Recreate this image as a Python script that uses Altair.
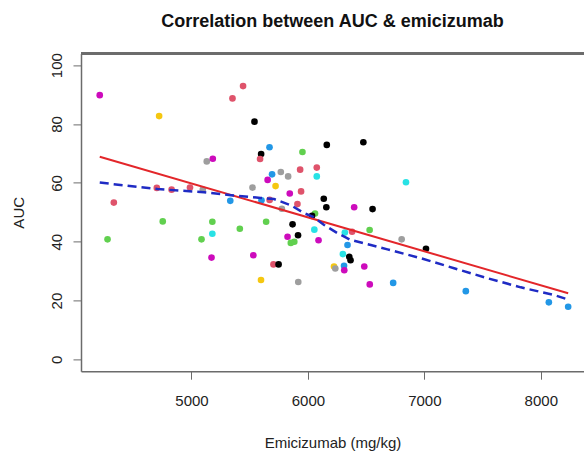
import altair as alt
import pandas as pd

# ---- data ----
emi = [4212, 4722, 5352, 5443, 5541, 5598, 5589, 5670, 5953, 6162,
       6476, 5131, 5183, 5692, 5767, 5830, 5933, 6076, 6076, 5654,
       5722, 5524, 4702, 4829, 4987, 5097, 5844, 5941, 5333, 5601,
       5671, 5910, 6136, 6158, 5776, 4333, 6061, 6035, 6397, 6555,
       6842, 4753, 5179, 5415, 5641, 4279, 5086, 5179, 5868, 5915,
       5825, 5853, 5883, 6055, 6091, 5172, 5531, 5704, 5748, 5597,
       5917, 6530, 6379, 6317, 6805, 7014, 6340, 6300, 6355, 6366,
       6484, 6224, 6235, 6310, 6312, 6531, 6732, 7356, 8069, 8235]
auc = [89.8, 82.7, 88.7, 92.9, 80.8, 69.8, 68.1, 72.1, 70.5, 72.9,
       73.8, 67.3, 68.2, 62.9, 63.7, 62.2, 64.5, 65.2, 62.2, 61.0,
       58.9, 58.4, 58.3, 57.7, 58.4, 57.7, 56.4, 57.1, 53.9, 54.1,
       54.2, 52.8, 54.6, 51.7, 51.2, 53.3, 49.6, 48.8, 51.7, 51.1,
       60.2, 46.9, 46.8, 44.4, 46.8, 40.8, 40.8, 42.7, 45.9, 42.2,
       41.7, 39.6, 40.0, 44.1, 40.5, 34.6, 35.4, 32.3, 32.3, 27.0,
       26.3, 44.0, 43.4, 43.1, 40.8, 37.6, 38.9, 35.8, 34.9, 33.7,
       31.6, 31.6, 30.9, 31.8, 30.3, 25.5, 26.0, 23.2, 19.4, 17.9]
grp = ["M", "Ye", "C", "C", "K", "K", "C", "B", "G", "K",
       "K", "Gr", "M", "B", "Gr", "Gr", "C", "C", "Cy", "M",
       "Ye", "Gr", "C", "C", "C", "Gr", "M", "C", "B", "B",
       "C", "C", "K", "K", "Gr", "C", "G", "K", "M", "K",
       "Cy", "G", "G", "G", "G", "G", "G", "Cy", "K", "K",
       "M", "G", "G", "Cy", "M", "M", "M", "C", "K", "Ye",
       "Gr", "G", "C", "Cy", "Gr", "K", "B", "Cy", "K", "K",
       "M", "Ye", "Gr", "B", "M", "M", "B", "B", "B", "B"]

fit_x = [4212, 8235]
fit_y = [68.9, 22.5]

low_x = [4212, 4708, 5108, 5338, 5595, 5709, 5853, 5967, 6050, 6139,
         6254, 6368, 6540, 6683, 6969, 7255, 7542, 7828, 8114, 8229]
low_y = [60.1, 57.9, 56.8, 55.8, 54.9, 54.5, 52.4, 49.7, 48.4, 45.7,
         42.9, 40.6, 38.9, 37.4, 34.4, 31.0, 27.6, 24.5, 21.9, 20.4]

x_ticks = [5000, 6000, 7000, 8000]
y_ticks = [0, 20, 40, 60, 80, 100]

pal_keys = ["K", "C", "G", "B", "Cy", "M", "Ye", "Gr"]
pal_cols = ["#000000", "#DF536B", "#61D04F", "#2297E6", "#28E2E5",
            "#CD0BBC", "#F5C710", "#9E9E9E"]

pts = pd.DataFrame({"x": emi, "y": auc, "g": grp})
fit = pd.DataFrame({"x": fit_x, "y": fit_y})
low = pd.DataFrame({"x": low_x, "y": low_y})

W, H = 503, 317.8
FONT = "Liberation Sans"
BOX = "#6b6b6b"

xscale = alt.Scale(domain=[4051, 8371], nice=False, zero=False)
yscale = alt.Scale(domain=[-4, 104], nice=False, zero=False)

xaxis = alt.Axis(values=x_ticks, format="d", title="Emicizumab (mg/kg)", grid=False,
                 tickSize=8, tickColor=BOX, domainColor=BOX, domainWidth=1.5,
                 labelFont=FONT, labelFontSize=15, labelColor="#222222",
                 labelBaseline="middle", labelPadding=21, labelFlush=False,
                 titleFont=FONT, titleFontSize=15, titleFontWeight="normal",
                 titleColor="#222222", titleBaseline="middle", titleY=71.4)
yaxis = alt.Axis(values=y_ticks, format="d", title="AUC", grid=False,
                 tickSize=8, tickColor=BOX, domainColor=BOX, domainWidth=1.5,
                 labelFont=FONT, labelFontSize=15, labelColor="#222222",
                 labelAngle=270, labelAlign="center", labelBaseline="middle",
                 labelPadding=17, labelFlush=False,
                 titleFont=FONT, titleFontSize=15, titleFontWeight="normal",
                 titleColor="#222222", titleBaseline="middle", titleX=-63,
                 titleAngle=270)

X = alt.X("x:Q", scale=xscale, axis=xaxis)
Y = alt.Y("y:Q", scale=yscale, axis=yaxis)

points = alt.Chart(pts).mark_circle(size=44, opacity=1).encode(
    x=X, y=Y,
    color=alt.Color("g:N", scale=alt.Scale(domain=pal_keys, range=pal_cols),
                    legend=None),
)

fit_line = alt.Chart(fit).mark_line(color="#E3262A", strokeWidth=2).encode(
    x=X, y=Y)

low_line = alt.Chart(low).mark_line(color="#1F2BC4", strokeWidth=2.5,
                                    strokeDash=[9, 5]).encode(x=X, y=Y)

top_border = alt.Chart(pts).mark_rule(color=BOX, strokeWidth=1.5).encode(
    x=alt.value(0), x2=alt.value(W), y=alt.value(0))

chart = alt.layer(points, fit_line, low_line, top_border).properties(
    width=W, height=H,
    title=alt.TitleParams("Correlation between AUC & emicizumab",
                          font=FONT, fontSize=18, fontWeight="bold",
                          color="#111111", anchor="middle", offset=22),
    autosize=alt.AutoSizeParams(type="none"),
    padding={"left": 81, "top": 53.4, "right": 0, "bottom": 79.8},
    background="white",
).configure_view(stroke=None)

chart.save("out.html", embed_options={"renderer": "svg", "actions": False})
